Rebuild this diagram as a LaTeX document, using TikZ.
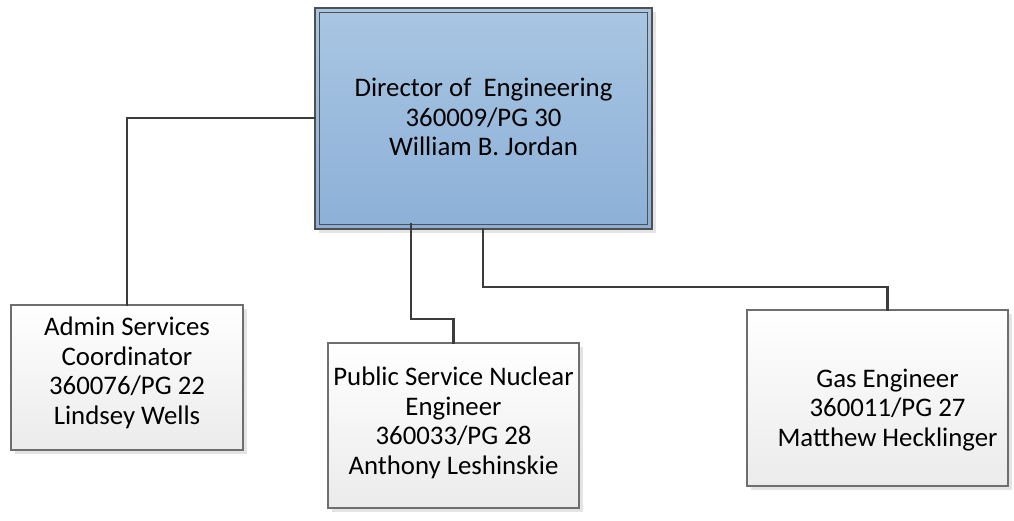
\documentclass[tikz,border=0pt]{standalone}
\usepackage{fontspec}
\setmainfont{Carlito}
\usetikzlibrary{shadows,calc}
\definecolor{dirtop}{HTML}{A9C6E3}
\definecolor{dirbot}{HTML}{8CB0D7}
\definecolor{edge}{HTML}{505050}
\definecolor{boxedge}{HTML}{6E6E6E}
\definecolor{boxbot}{HTML}{EBEBEB}
\definecolor{wire}{HTML}{3C3C3C}
\definecolor{shade}{HTML}{E4E4E4}
\tikzset{
  x=1pt, y=-1pt,
  shadowed/.style={drop shadow={shadow xshift=4pt, shadow yshift=-4pt, fill=shade, opacity=1}},
  headbox/.style={draw=edge, line width=1.4pt, top color=dirtop, bottom color=dirbot,
    inner sep=0pt, shadowed},
  posbox/.style={draw=boxedge, line width=1.3pt, top color=white, bottom color=boxbot,
    inner sep=0pt, shadowed},
  label/.style={align=center, font=\fontsize{26.8}{29.5}\selectfont, inner sep=0pt},
  wire/.style={draw=wire, line width=2.7pt, line cap=rect},
}
\begin{document}
\begin{tikzpicture}
\useasboundingbox (0,0) rectangle (1014,521);

% director box with inner frame
\node[headbox, minimum width=337pt, minimum height=221pt] (dir) at (483.5,118.5) {};
\draw[edge, line width=1.4pt] ($(dir.south west)+(5pt,5pt)$) rectangle ($(dir.north east)+(-5pt,-5pt)$);
\node[label] (dirtxt) at (483.5,117) {Director of~~Engineering\\360009/PG 30\\William B. Jordan};

% subordinate positions
\node[posbox, minimum width=232pt, minimum height=145pt] (adm) at (127,377.5) {};
\node[label] (admtxt) at (127,373) {Admin Services\\Coordinator\\360076/PG 22\\Lindsey Wells};

\node[posbox, minimum width=251pt, minimum height=165pt] (nuc) at (453.5,425.5) {};
\node[label] (nuctxt) at (453.5,423) {Public Service Nuclear\\Engineer\\360033/PG 28\\Anthony Leshinskie};

\node[posbox, minimum width=261pt, minimum height=176pt] (gas) at (877.5,398) {};
\node[label] (gastxt) at (887.5,410) {Gas Engineer\\360011/PG 27\\Matthew Hecklinger};

% connector bends
\coordinate (admbend) at (127,118);
\coordinate (nucstart) at (411,224);
\coordinate (nucbend1) at (411,319);
\coordinate (nucbend2) at (453.5,319);
\coordinate (gasstart) at (483,229);
\coordinate (gasbend1) at (483,287);
\coordinate (gasbend2) at (887.5,287);

\draw[wire] (dir.west |- admbend) -- (admbend) -- (adm.north -| admbend);
\draw[wire] (nucstart) -- (nucbend1) -- (nucbend2) -- (nuc.north -| nucbend2);
\draw[wire] (gasstart) -- (gasbend1) -- (gasbend2) -- (gas.north -| gasbend2);
\end{tikzpicture}
\end{document}
